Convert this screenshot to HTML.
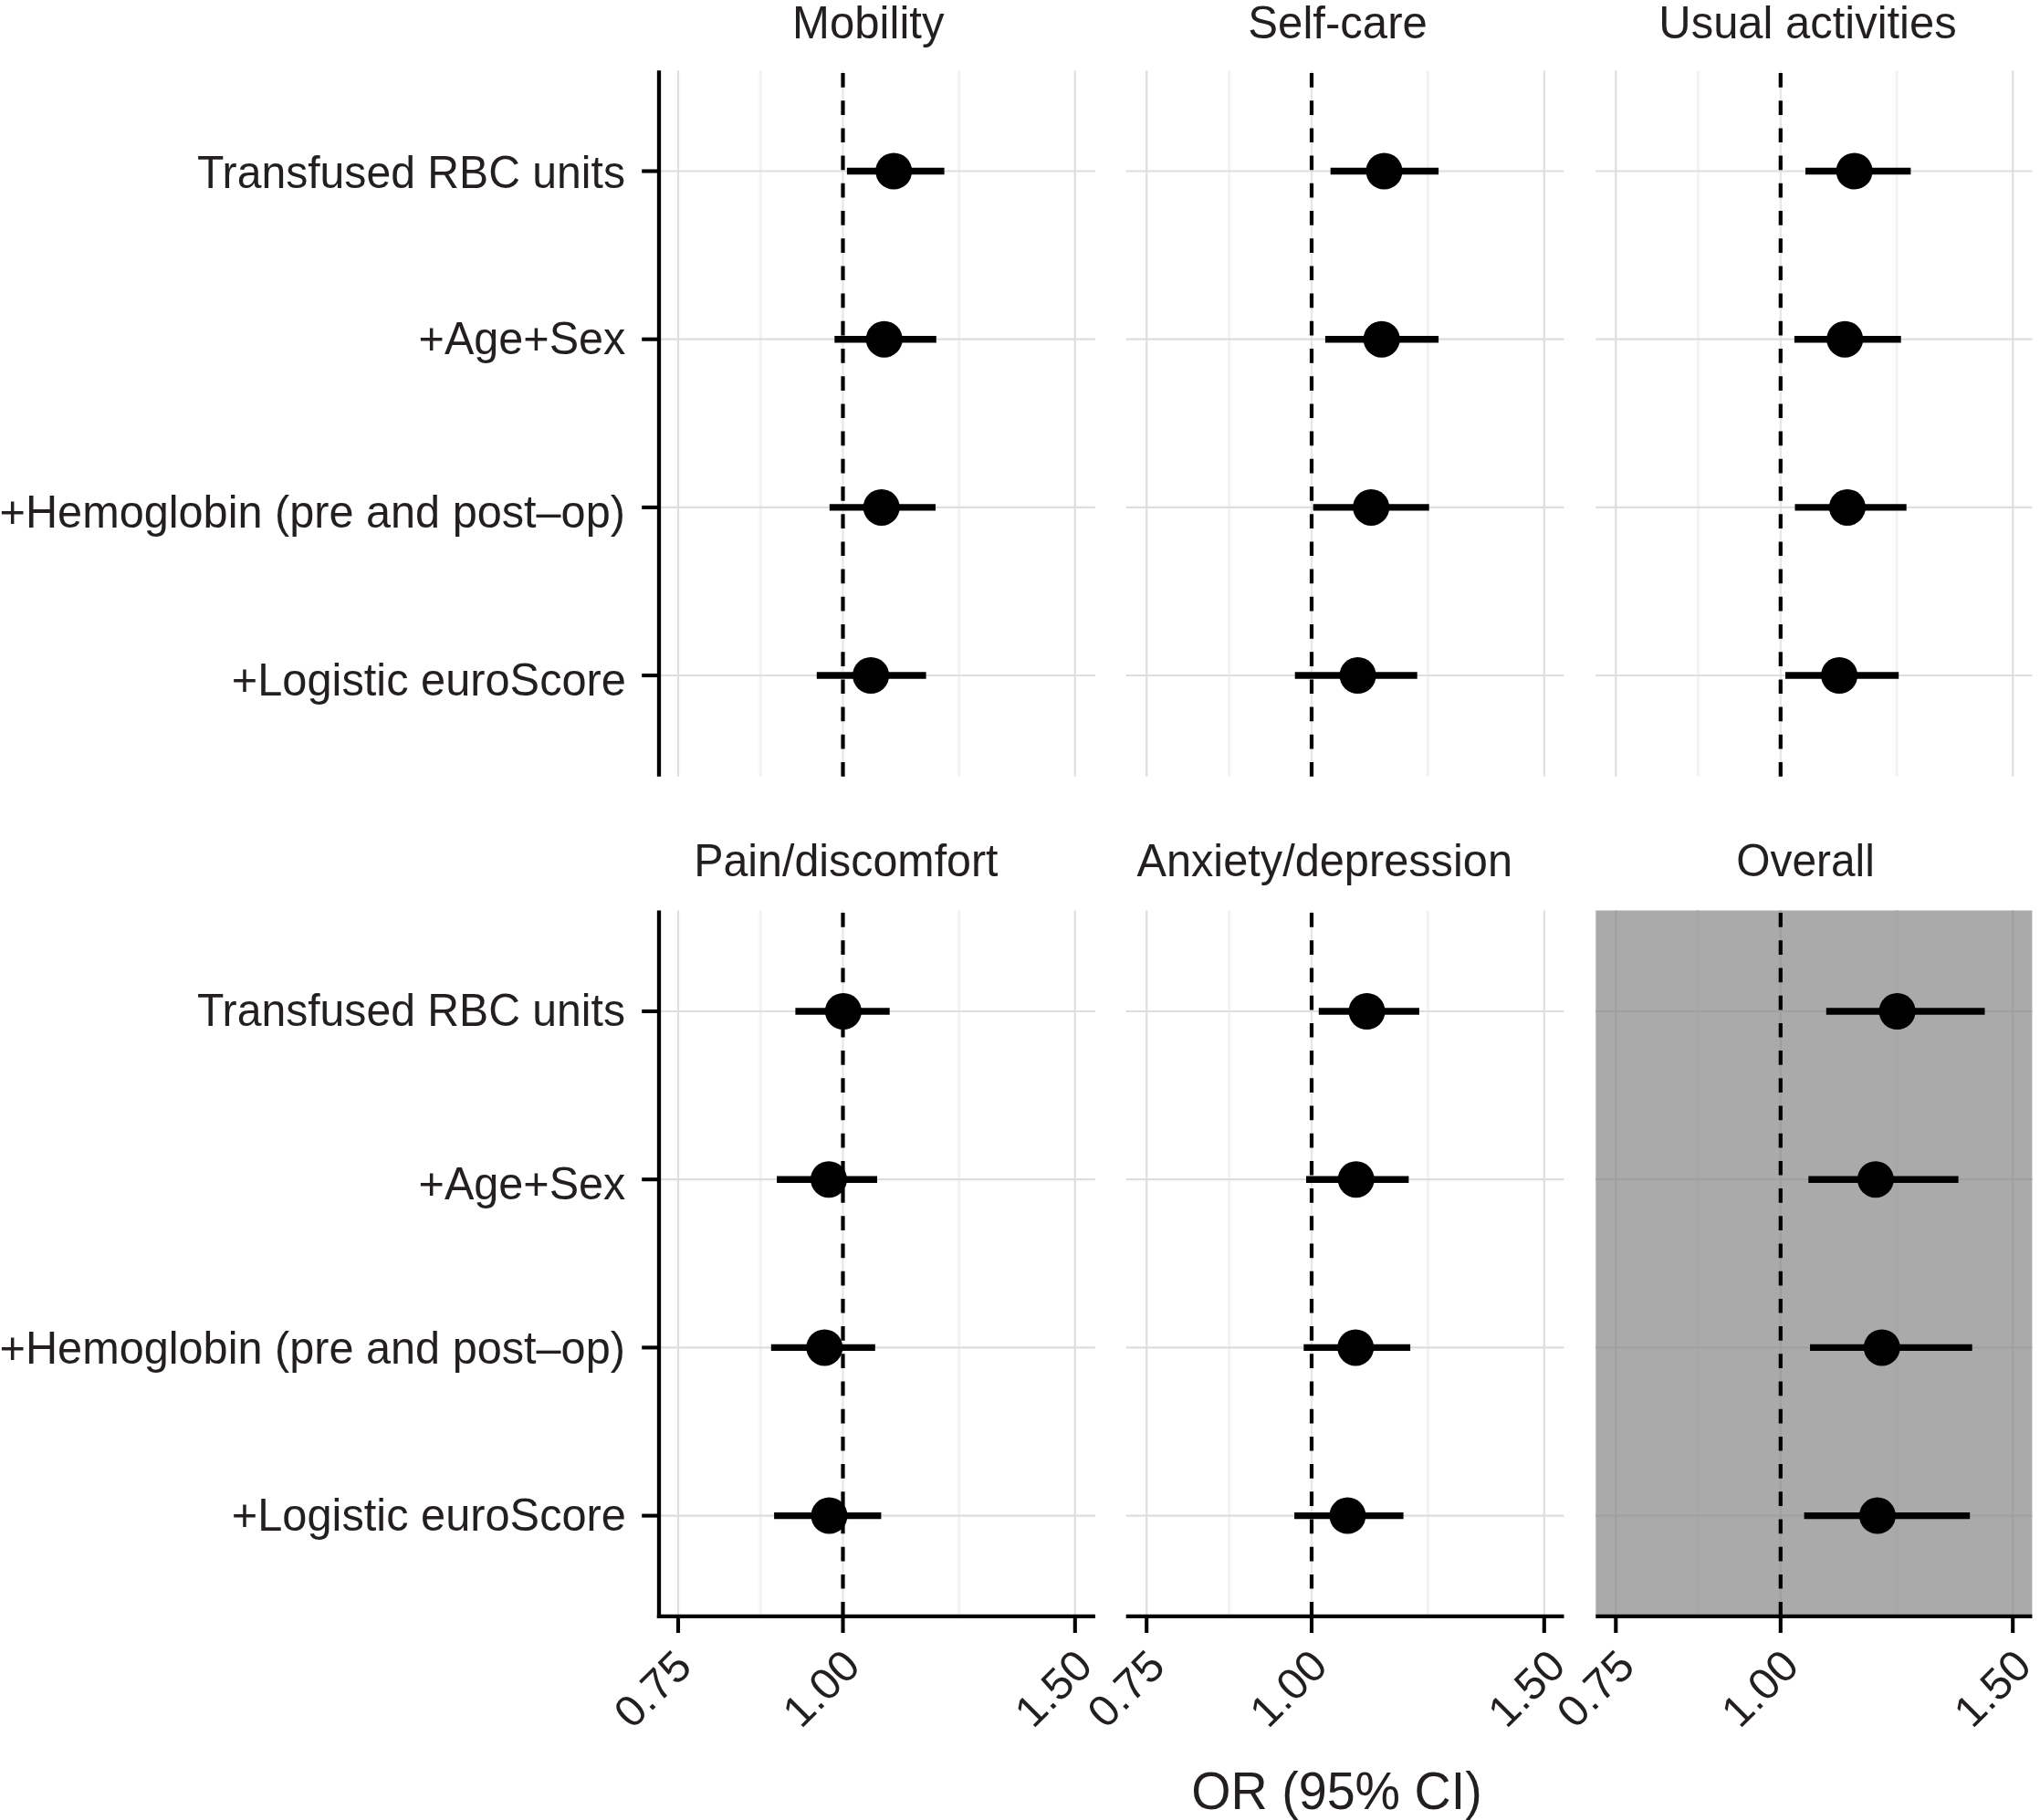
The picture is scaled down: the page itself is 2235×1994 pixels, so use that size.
<!DOCTYPE html>
<html lang="en"><head><meta charset="utf-8"><title>Figure</title>
<style>html,body{margin:0;padding:0;background:#fff}body{width:2235px;height:1994px;overflow:hidden}svg{display:block}</style>
</head><body>
<svg width="2235" height="1994" viewBox="0 0 2235 1994" font-family='"Liberation Sans", sans-serif' fill="#231f20">
<rect width="2235" height="1994" fill="#fff"/>
<g>
<line x1="833.3" x2="833.3" y1="77.3" y2="850.7" stroke="#f3f3f3" stroke-width="3.2"/>
<line x1="1050.7" x2="1050.7" y1="77.3" y2="850.7" stroke="#f3f3f3" stroke-width="3.2"/>
<line x1="743.0" x2="743.0" y1="77.3" y2="850.7" stroke="#dedede" stroke-width="2.2"/>
<line x1="923.5" x2="923.5" y1="77.3" y2="850.7" stroke="#e6e6e6" stroke-width="2.2"/>
<line x1="1177.8" x2="1177.8" y1="77.3" y2="850.7" stroke="#dedede" stroke-width="2.2"/>
<line x1="722.0" x2="1199.9" y1="187.5" y2="187.5" stroke="#dedede" stroke-width="2.2"/>
<line x1="722.0" x2="1199.9" y1="371.7" y2="371.7" stroke="#dedede" stroke-width="2.2"/>
<line x1="722.0" x2="1199.9" y1="555.9" y2="555.9" stroke="#dedede" stroke-width="2.2"/>
<line x1="722.0" x2="1199.9" y1="740.0" y2="740.0" stroke="#dedede" stroke-width="2.2"/>
<line x1="927.9" x2="1034.6" y1="187.5" y2="187.5" stroke="#000" stroke-width="7.4"/>
<circle cx="979.2" cy="187.5" r="20" fill="#000"/>
<line x1="914.3" x2="1025.8" y1="371.7" y2="371.7" stroke="#000" stroke-width="7.4"/>
<circle cx="968.7" cy="371.7" r="20" fill="#000"/>
<line x1="908.8" x2="1025.0" y1="555.9" y2="555.9" stroke="#000" stroke-width="7.4"/>
<circle cx="965.7" cy="555.9" r="20" fill="#000"/>
<line x1="894.8" x2="1014.6" y1="740.0" y2="740.0" stroke="#000" stroke-width="7.4"/>
<circle cx="954.1" cy="740.0" r="20" fill="#000"/>
<line x1="923.5" x2="923.5" y1="850.7" y2="77.3" stroke="#000" stroke-width="4.2" stroke-dasharray="15.7 14.5"/>
<line x1="722.0" x2="722.0" y1="77.3" y2="850.7" stroke="#000" stroke-width="4.3"/>
<line x1="703.2" x2="722.0" y1="187.5" y2="187.5" stroke="#000" stroke-width="4.1"/>
<line x1="703.2" x2="722.0" y1="371.7" y2="371.7" stroke="#000" stroke-width="4.1"/>
<line x1="703.2" x2="722.0" y1="555.9" y2="555.9" stroke="#000" stroke-width="4.1"/>
<line x1="703.2" x2="722.0" y1="740.0" y2="740.0" stroke="#000" stroke-width="4.1"/>
</g>
<g>
<line x1="1346.6" x2="1346.6" y1="77.3" y2="850.7" stroke="#f3f3f3" stroke-width="3.2"/>
<line x1="1564.4" x2="1564.4" y1="77.3" y2="850.7" stroke="#f3f3f3" stroke-width="3.2"/>
<line x1="1256.2" x2="1256.2" y1="77.3" y2="850.7" stroke="#dedede" stroke-width="2.2"/>
<line x1="1437.0" x2="1437.0" y1="77.3" y2="850.7" stroke="#e6e6e6" stroke-width="2.2"/>
<line x1="1691.8" x2="1691.8" y1="77.3" y2="850.7" stroke="#dedede" stroke-width="2.2"/>
<line x1="1233.7" x2="1713.5" y1="187.5" y2="187.5" stroke="#dedede" stroke-width="2.2"/>
<line x1="1233.7" x2="1713.5" y1="371.7" y2="371.7" stroke="#dedede" stroke-width="2.2"/>
<line x1="1233.7" x2="1713.5" y1="555.9" y2="555.9" stroke="#dedede" stroke-width="2.2"/>
<line x1="1233.7" x2="1713.5" y1="740.0" y2="740.0" stroke="#dedede" stroke-width="2.2"/>
<line x1="1457.7" x2="1576.1" y1="187.5" y2="187.5" stroke="#000" stroke-width="7.4"/>
<circle cx="1516.5" cy="187.5" r="20" fill="#000"/>
<line x1="1451.9" x2="1576.1" y1="371.7" y2="371.7" stroke="#000" stroke-width="7.4"/>
<circle cx="1513.7" cy="371.7" r="20" fill="#000"/>
<line x1="1438.7" x2="1565.7" y1="555.9" y2="555.9" stroke="#000" stroke-width="7.4"/>
<circle cx="1502.2" cy="555.9" r="20" fill="#000"/>
<line x1="1418.7" x2="1552.7" y1="740.0" y2="740.0" stroke="#000" stroke-width="7.4"/>
<circle cx="1487.6" cy="740.0" r="20" fill="#000"/>
<line x1="1437.0" x2="1437.0" y1="850.7" y2="77.3" stroke="#000" stroke-width="4.2" stroke-dasharray="15.7 14.5"/>
</g>
<g>
<line x1="1860.6" x2="1860.6" y1="77.3" y2="850.7" stroke="#f3f3f3" stroke-width="3.2"/>
<line x1="2078.0" x2="2078.0" y1="77.3" y2="850.7" stroke="#f3f3f3" stroke-width="3.2"/>
<line x1="1770.3" x2="1770.3" y1="77.3" y2="850.7" stroke="#dedede" stroke-width="2.2"/>
<line x1="1950.8" x2="1950.8" y1="77.3" y2="850.7" stroke="#e6e6e6" stroke-width="2.2"/>
<line x1="2205.2" x2="2205.2" y1="77.3" y2="850.7" stroke="#dedede" stroke-width="2.2"/>
<line x1="1748.3" x2="2226.4" y1="187.5" y2="187.5" stroke="#dedede" stroke-width="2.2"/>
<line x1="1748.3" x2="2226.4" y1="371.7" y2="371.7" stroke="#dedede" stroke-width="2.2"/>
<line x1="1748.3" x2="2226.4" y1="555.9" y2="555.9" stroke="#dedede" stroke-width="2.2"/>
<line x1="1748.3" x2="2226.4" y1="740.0" y2="740.0" stroke="#dedede" stroke-width="2.2"/>
<line x1="1978.0" x2="2093.4" y1="187.5" y2="187.5" stroke="#000" stroke-width="7.4"/>
<circle cx="2031.6" cy="187.5" r="20" fill="#000"/>
<line x1="1965.9" x2="2082.7" y1="371.7" y2="371.7" stroke="#000" stroke-width="7.4"/>
<circle cx="2021.2" cy="371.7" r="20" fill="#000"/>
<line x1="1966.5" x2="2088.7" y1="555.9" y2="555.9" stroke="#000" stroke-width="7.4"/>
<circle cx="2023.9" cy="555.9" r="20" fill="#000"/>
<line x1="1956.0" x2="2080.2" y1="740.0" y2="740.0" stroke="#000" stroke-width="7.4"/>
<circle cx="2015.1" cy="740.0" r="20" fill="#000"/>
<line x1="1950.8" x2="1950.8" y1="850.7" y2="77.3" stroke="#000" stroke-width="4.2" stroke-dasharray="15.7 14.5"/>
</g>
<g>
<line x1="833.3" x2="833.3" y1="997.5" y2="1770.8" stroke="#f3f3f3" stroke-width="3.2"/>
<line x1="1050.7" x2="1050.7" y1="997.5" y2="1770.8" stroke="#f3f3f3" stroke-width="3.2"/>
<line x1="743.0" x2="743.0" y1="997.5" y2="1770.8" stroke="#dedede" stroke-width="2.2"/>
<line x1="923.5" x2="923.5" y1="997.5" y2="1770.8" stroke="#e6e6e6" stroke-width="2.2"/>
<line x1="1177.8" x2="1177.8" y1="997.5" y2="1770.8" stroke="#dedede" stroke-width="2.2"/>
<line x1="722.0" x2="1199.9" y1="1108.0" y2="1108.0" stroke="#dedede" stroke-width="2.2"/>
<line x1="722.0" x2="1199.9" y1="1292.2" y2="1292.2" stroke="#dedede" stroke-width="2.2"/>
<line x1="722.0" x2="1199.9" y1="1476.4" y2="1476.4" stroke="#dedede" stroke-width="2.2"/>
<line x1="722.0" x2="1199.9" y1="1660.6" y2="1660.6" stroke="#dedede" stroke-width="2.2"/>
<line x1="871.4" x2="974.7" y1="1108.0" y2="1108.0" stroke="#000" stroke-width="7.4"/>
<circle cx="923.9" cy="1108.0" r="20" fill="#000"/>
<line x1="851.1" x2="961.0" y1="1292.2" y2="1292.2" stroke="#000" stroke-width="7.4"/>
<circle cx="908.0" cy="1292.2" r="20" fill="#000"/>
<line x1="844.8" x2="958.8" y1="1476.4" y2="1476.4" stroke="#000" stroke-width="7.4"/>
<circle cx="903.3" cy="1476.4" r="20" fill="#000"/>
<line x1="848.1" x2="965.4" y1="1660.6" y2="1660.6" stroke="#000" stroke-width="7.4"/>
<circle cx="908.5" cy="1660.6" r="20" fill="#000"/>
<line x1="923.5" x2="923.5" y1="1770.8" y2="997.5" stroke="#000" stroke-width="4.2" stroke-dasharray="15.7 14.5"/>
<line x1="722.0" x2="722.0" y1="997.5" y2="1772.95" stroke="#000" stroke-width="4.3"/>
<line x1="703.2" x2="722.0" y1="1108.0" y2="1108.0" stroke="#000" stroke-width="4.1"/>
<line x1="703.2" x2="722.0" y1="1292.2" y2="1292.2" stroke="#000" stroke-width="4.1"/>
<line x1="703.2" x2="722.0" y1="1476.4" y2="1476.4" stroke="#000" stroke-width="4.1"/>
<line x1="703.2" x2="722.0" y1="1660.6" y2="1660.6" stroke="#000" stroke-width="4.1"/>
<line x1="719.85" x2="1199.9" y1="1770.8" y2="1770.8" stroke="#000" stroke-width="4.3"/>
<line x1="743.0" x2="743.0" y1="1770.8" y2="1789.0" stroke="#000" stroke-width="4.1"/>
<text font-size="48" text-anchor="end" transform="translate(760.1 1828.6) rotate(-45) scale(1.018 1)">0.75</text>
<line x1="923.5" x2="923.5" y1="1770.8" y2="1789.0" stroke="#000" stroke-width="4.1"/>
<text font-size="48" text-anchor="end" transform="translate(944.8 1827.8) rotate(-45) scale(1.018 1)">1.00</text>
<line x1="1177.8" x2="1177.8" y1="1770.8" y2="1789.0" stroke="#000" stroke-width="4.1"/>
<text font-size="48" text-anchor="end" transform="translate(1199.1 1827.8) rotate(-45) scale(1.018 1)">1.50</text>
</g>
<g>
<line x1="1346.6" x2="1346.6" y1="997.5" y2="1770.8" stroke="#f3f3f3" stroke-width="3.2"/>
<line x1="1564.4" x2="1564.4" y1="997.5" y2="1770.8" stroke="#f3f3f3" stroke-width="3.2"/>
<line x1="1256.2" x2="1256.2" y1="997.5" y2="1770.8" stroke="#dedede" stroke-width="2.2"/>
<line x1="1437.0" x2="1437.0" y1="997.5" y2="1770.8" stroke="#e6e6e6" stroke-width="2.2"/>
<line x1="1691.8" x2="1691.8" y1="997.5" y2="1770.8" stroke="#dedede" stroke-width="2.2"/>
<line x1="1233.7" x2="1713.5" y1="1108.0" y2="1108.0" stroke="#dedede" stroke-width="2.2"/>
<line x1="1233.7" x2="1713.5" y1="1292.2" y2="1292.2" stroke="#dedede" stroke-width="2.2"/>
<line x1="1233.7" x2="1713.5" y1="1476.4" y2="1476.4" stroke="#dedede" stroke-width="2.2"/>
<line x1="1233.7" x2="1713.5" y1="1660.6" y2="1660.6" stroke="#dedede" stroke-width="2.2"/>
<line x1="1444.8" x2="1554.9" y1="1108.0" y2="1108.0" stroke="#000" stroke-width="7.4"/>
<circle cx="1497.5" cy="1108.0" r="20" fill="#000"/>
<line x1="1431.0" x2="1543.4" y1="1292.2" y2="1292.2" stroke="#000" stroke-width="7.4"/>
<circle cx="1485.7" cy="1292.2" r="20" fill="#000"/>
<line x1="1428.3" x2="1545.1" y1="1476.4" y2="1476.4" stroke="#000" stroke-width="7.4"/>
<circle cx="1485.2" cy="1476.4" r="20" fill="#000"/>
<line x1="1418.1" x2="1537.6" y1="1660.6" y2="1660.6" stroke="#000" stroke-width="7.4"/>
<circle cx="1476.4" cy="1660.6" r="20" fill="#000"/>
<line x1="1437.0" x2="1437.0" y1="1770.8" y2="997.5" stroke="#000" stroke-width="4.2" stroke-dasharray="15.7 14.5"/>
<line x1="1233.7" x2="1713.5" y1="1770.8" y2="1770.8" stroke="#000" stroke-width="4.3"/>
<line x1="1256.2" x2="1256.2" y1="1770.8" y2="1789.0" stroke="#000" stroke-width="4.1"/>
<text font-size="48" text-anchor="end" transform="translate(1278.8 1828.3) rotate(-45) scale(1.018 1)">0.75</text>
<line x1="1437.0" x2="1437.0" y1="1770.8" y2="1789.0" stroke="#000" stroke-width="4.1"/>
<text font-size="48" text-anchor="end" transform="translate(1456.6 1827.8) rotate(-45) scale(1.018 1)">1.00</text>
<line x1="1691.8" x2="1691.8" y1="1770.8" y2="1789.0" stroke="#000" stroke-width="4.1"/>
<text font-size="48" text-anchor="end" transform="translate(1717.4 1827.8) rotate(-45) scale(1.018 1)">1.50</text>
</g>
<g>
<rect x="1748.3" y="997.5" width="478.1" height="773.3" fill="#aaaaaa"/>
<line x1="1860.6" x2="1860.6" y1="997.5" y2="1770.8" stroke="#a7a7a7" stroke-width="3.2"/>
<line x1="2078.0" x2="2078.0" y1="997.5" y2="1770.8" stroke="#a7a7a7" stroke-width="3.2"/>
<line x1="1770.3" x2="1770.3" y1="997.5" y2="1770.8" stroke="#a0a0a0" stroke-width="2.2"/>
<line x1="1950.8" x2="1950.8" y1="997.5" y2="1770.8" stroke="#a0a0a0" stroke-width="2.2"/>
<line x1="2205.2" x2="2205.2" y1="997.5" y2="1770.8" stroke="#a0a0a0" stroke-width="2.2"/>
<line x1="1748.3" x2="2226.4" y1="1108.0" y2="1108.0" stroke="#a0a0a0" stroke-width="2.2"/>
<line x1="1748.3" x2="2226.4" y1="1292.2" y2="1292.2" stroke="#a0a0a0" stroke-width="2.2"/>
<line x1="1748.3" x2="2226.4" y1="1476.4" y2="1476.4" stroke="#a0a0a0" stroke-width="2.2"/>
<line x1="1748.3" x2="2226.4" y1="1660.6" y2="1660.6" stroke="#a0a0a0" stroke-width="2.2"/>
<line x1="2000.8" x2="2174.5" y1="1108.0" y2="1108.0" stroke="#000" stroke-width="7.4"/>
<circle cx="2078.6" cy="1108.0" r="20" fill="#000"/>
<line x1="1981.3" x2="2145.6" y1="1292.2" y2="1292.2" stroke="#000" stroke-width="7.4"/>
<circle cx="2054.9" cy="1292.2" r="20" fill="#000"/>
<line x1="1983.0" x2="2160.7" y1="1476.4" y2="1476.4" stroke="#000" stroke-width="7.4"/>
<circle cx="2061.8" cy="1476.4" r="20" fill="#000"/>
<line x1="1976.6" x2="2158.2" y1="1660.6" y2="1660.6" stroke="#000" stroke-width="7.4"/>
<circle cx="2056.9" cy="1660.6" r="20" fill="#000"/>
<line x1="1950.8" x2="1950.8" y1="1770.8" y2="997.5" stroke="#000" stroke-width="4.2" stroke-dasharray="15.7 14.5"/>
<line x1="1748.3" x2="2226.4" y1="1770.8" y2="1770.8" stroke="#000" stroke-width="4.3"/>
<line x1="1770.3" x2="1770.3" y1="1770.8" y2="1789.0" stroke="#000" stroke-width="4.1"/>
<text font-size="48" text-anchor="end" transform="translate(1793.1 1828.3) rotate(-45) scale(1.018 1)">0.75</text>
<line x1="1950.8" x2="1950.8" y1="1770.8" y2="1789.0" stroke="#000" stroke-width="4.1"/>
<text font-size="48" text-anchor="end" transform="translate(1973.3 1827.8) rotate(-45) scale(1.018 1)">1.00</text>
<line x1="2205.2" x2="2205.2" y1="1770.8" y2="1789.0" stroke="#000" stroke-width="4.1"/>
<text font-size="48" text-anchor="end" transform="translate(2227.9 1827.8) rotate(-45) scale(1.018 1)">1.50</text>
</g>
<text transform="translate(868.11 41.6) scale(1.0228 1.025)" font-size="48">Mobility</text>
<text transform="translate(1367.34 41.6) scale(1.0230 1.025)" font-size="48">Self-care</text>
<text transform="translate(1817.32 41.6) scale(1.0197 1.025)" font-size="48">Usual activities</text>
<text transform="translate(760.17 959.5) scale(1.0080 1.025)" font-size="48">Pain/discomfort</text>
<text transform="translate(1245.39 959.5) scale(1.0150 1.025)" font-size="48">Anxiety/depression</text>
<text transform="translate(1902.20 959.5) scale(0.9980 1.025)" font-size="48">Overall</text>
<text transform="translate(216.00 205.7) scale(1.0030 1.025)" font-size="48">Transfused RBC units</text>
<text transform="translate(458.57 387.9) scale(1.0118 1.025)" font-size="48">+Age+Sex</text>
<text transform="translate(-0.43 577.5) scale(1.0136 1.025)" font-size="48">+Hemoglobin (pre and post–op)</text>
<text transform="translate(253.77 761.6) scale(1.0157 1.025)" font-size="48">+Logistic euroScore</text>
<text transform="translate(216.00 1124.0) scale(1.0030 1.025)" font-size="48">Transfused RBC units</text>
<text transform="translate(458.57 1313.5) scale(1.0118 1.025)" font-size="48">+Age+Sex</text>
<text transform="translate(-0.43 1493.8) scale(1.0136 1.025)" font-size="48">+Hemoglobin (pre and post–op)</text>
<text transform="translate(253.77 1676.5) scale(1.0157 1.025)" font-size="48">+Logistic euroScore</text>
<text transform="translate(1305.26 1981.6) scale(0.9763 1.0)" font-size="57">OR (95% CI)</text>
</svg>
</body></html>
